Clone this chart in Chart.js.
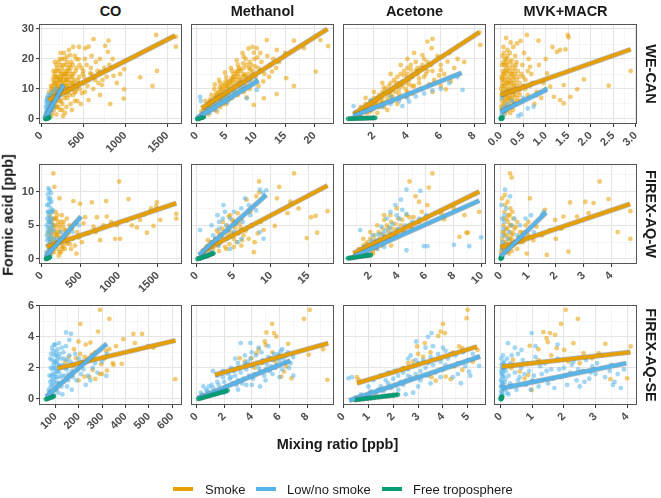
<!DOCTYPE html>
<html><head><meta charset="utf-8">
<script src="https://cdn.jsdelivr.net/npm/chart.js@4/dist/chart.umd.min.js"></script>
<style>
html,body{margin:0;padding:0;background:#fff;}
#wrap{position:relative;width:661px;height:498px;overflow:hidden;font-family:"Liberation Sans",Arial,Helvetica,sans-serif;background:#fff;}
.t{position:absolute;white-space:nowrap;color:#1a1a1a;line-height:1;}
canvas{position:absolute;}
</style></head><body><div id="wrap"></div>
<script>
// ---------- labels ----------
const campaigns = ['WE-CAN','FIREX-AQ-W','FIREX-AQ-SE'];
const species = ['CO','Methanol','Acetone','MVK+MACR'];
const groups = ['Smoke','Low/no smoke','Free troposphere'];
const yTitle = 'Formic acid [ppb]';
const xTitle = 'Mixing ratio [ppb]';

// ---------- axes (rows share y) ----------
const yMajor = [[0,10,20,30],[0,5,10],[0,2,4,6]];
const yLabels = [['0','10','20','30'],['0','5','10'],['0','2','4','6']];
const yRange = [[-1.67,31.67],[-0.74,14.1],[-0.39,6.05]];

const xMajor = [
 [0,500,1000,1500],[0,5,10,15,20],[2,4,6,8],[0,0.5,1,1.5,2,2.5,3],
 [0,500,1000,1500],[0,5,10,15],[2,4,6,8,10],[0,1,2,3,4],
 [100,200,300,400,500,600],[0,2,4,6,8],[0,1,2,3,4,5],[0,1,2,3,4]];
const xLabels = [
 ['0','500','1000','1500'],['0','5','10','15','20'],['2','4','6','8'],['0.0','0.5','1.0','1.5','2.0','2.5','3.0'],
 ['0','500','1000','1500'],['0','5','10','15'],['2','4','6','8','10'],['0','1','2','3','4'],
 ['100','200','300','400','500','600'],['0','2','4','6','8'],['0','1','2','3','4','5'],['0','1','2','3','4']];
const xRange = [[-27,1677],[-0.95,23.3],[0.15,8.7],[-0.15,3.03],
 [-35,1815],[-0.77,18.47],[0.05,10.3],[-0.24,4.93],
 [30,642],[-0.4,9.95],[-0.02,5.73],[-0.21,4.31]];

// ---------- fitted lines [x1,y1,x2,y2] ----------
const fitSmoke = [[87,6.3,1595,27.8],[0.85,3.6,22.2,30],[0.77,1.6,8.3,28.9],[0,8.0,2.89,23.2],
 [65,1.83,1740,8.27],[0.68,1.08,17.6,10.9],[0.79,0.85,9.82,10.0],[0,1.7,4.68,8.17],
 [110,1.98,614,3.76],[1.33,1.55,9.53,3.59],[0.54,1.01,5.37,3.37],[0.04,2.08,4.1,3.01]];
const fitLow = [[45,0.3,265,11.3],[0.05,0.2,10.5,12.8],[0.77,1.0,7.24,15.4],[0,2.4,1.03,9.9],
 [50,0.3,509,6.3],[0.3,0.6,9.35,9.5],[0.79,0.35,9.82,8.67],[0,0.35,1.64,6.9],
 [60,0.15,320,3.55],[0.1,0.05,6.79,2.47],[0.23,-0.1,5.49,2.73],[0.02,0.68,3.97,2.3]];
const fitFree = [[48,0.1,95,0.5],[0.1,0.0,1.2,0.7],[0.45,0.1,2.08,0.35],[0,0.05,0.05,0.5],
 [50,0,108,0.3],[0.1,0.0,2.25,0.85],[0.4,0.1,2.1,0.6],[0,0,0.05,0.3],
 [60,-0.02,92,0.15],[0.12,0,2.25,0.54],[0.47,-0.06,2.19,0.28],[0,0,0.05,0.15]];

// ---------- scatter points [x,y] ----------
const WECAN_CO_smoke = [[1604,27.4],[1604,24.1],[1370,28],[1378,16],[1326,11],[1179,13.9],[988,16.6],[988,9.9],[981,6.8],[822,5],[802,26.1],[794,22.4],[762,24.4],[623,26.6],[564,24.1],[524,23.6],[861,14.4],[722,11.3],[703,15.8],[445,19.9],[345,21.3],[306,20.8],[584,15.2],[445,11.9],[484,8.6],[564,6.3],
[100,5],[120,8],[140,10],[150,6],[160,12],[170,4],[180,9],[190,14],[200,11],[210,7],[220,16],[230,13],[240,10],[250,5],[260,18],[270,12],[280,9],[290,15],[300,11],[310,7],[320,17],[330,13],[350,10],[360,19],[370,14],[380,8],[400,12],[410,16],[420,20],[430,6],[450,14],[460,10],[480,17],[500,12],[520,9],[540,18],[560,13],[600,15],[620,10],[650,19],[680,12],[700,8],[750,17],[780,14],[850,20],[900,12],[110,3],[130,2],[90,4],[80,7],[70,2],[150,3],[200,4],[250,3],[300,4],[350,5],[180,1.5],[120,1],[260,1],[400,6],[220,9.5],[170,8.5],[140,13],[190,17],[230,22],[280,20],[330,23],[400,21],[450,24],[500,16],[600,21],[700,20],[520,20],[380,24],[160,15],[115,11],[95,9],[260,14],[310,19],[420,17],[340,8],[470,5],[135,7],[155,9],[175,11],[195,8],[215,12],[235,6],[255,15],[275,7],[295,13],[315,10],[335,16],[355,12],[375,18],[395,9],[245,17],[205,19],[165,5],[185,6],[225,3],[285,2],[145,16],[125,5],[105,8],[365,3],[425,10],[455,18],[510,14],[550,11],[590,17],[640,13],[670,16],[730,13],[810,18],[940,15],
[105,4],[115,6],[125,9],[135,11],[145,8],[155,12],[165,10],[175,14],[185,12],[195,10],[205,14],[215,9],[225,13],[235,15],[245,11],[255,9],[265,13],[275,16],[285,11],[295,9],[305,14],[315,12],[325,9],[345,14],[365,10],[385,15],[405,11],[435,13],[465,12],[495,15],[130,6],[150,8],[170,7],[190,11],[210,13],[230,10],[250,12],[270,10],[290,8],[310,15],[330,11],[350,17],[370,12],[390,13],[410,9],[120,10],[140,4],[160,9],[180,13],[200,8],[220,6],[240,14],[260,11],[280,15],[300,13],[320,10],[340,18],[360,15],[380,11],[150,14],[170,16],[190,4],[210,10],[230,18],[250,20],[270,22],[290,18],[310,16],[200,16],[180,18],[160,19],[220,20]];
const WECAN_CO_low = [[45,0.5],[50,1],[55,2],[60,1.5],[65,3],[70,2.5],[75,4],[80,3],[85,5],[90,6],[95,4],[100,7],[105,2],[110,8],[115,5],[120,6],[130,9],[140,7],[60,6],[70,7],[80,8],[90,1],[100,3],[150,4],[170,10],[190,9],[250,11],[60,0.3],[70,0.8],[55,4],[65,5],[75,6],[85,2],[95,3],[110,4],[125,3],[135,5],[160,6],[200,7],[230,8]];
const WECAN_CO_free = [[48,0],[55,0.1],[60,0.2],[65,0.3],[70,0.2],[75,0.4],[80,0.3],[85,0.5],[90,0.4],[95,0.5],[58,0.05],[68,0.15],[78,0.25],[88,0.35]];

const WECAN_MeOH_smoke = [[21,26.3],[22.3,24.3],[20.2,15.8],[18.2,23.6],[16.5,26.1],[16.5,11],[15.2,13.6],[13.6,23],[13.6,8.3],[11.9,26.3],[10.2,23.6],[9.7,22.1],[12.8,15.8],[10.5,11],[11.4,6.9],[9.7,4.7],[8.5,7.2],[8,20.8],
[1,2],[1.2,3.5],[1.5,4],[1.8,2.5],[2,5],[2.2,3],[2.5,6],[2.7,4],[3,7],[3.2,5],[3.5,8],[3.7,6],[4,9],[4.2,7],[4.5,10],[4.7,8],[5,11],[5.2,9],[5.5,12],[5.7,10],[6,13],[6.2,11],[6.5,14],[6.7,12],[7,15],[7.2,13],[7.5,16],[7.7,14],[8,17],[8.2,11],[8.5,18],[8.7,15],[9,19],[9.2,13],[9.5,16],[9.8,20],[10,14],[10.5,17],[11,19],[11.5,15],[12,21],[12.5,18],[13,20],[14,19],[15,22],[3,3],[4,4],[5,5],[6,7],[7,8],[8,9],[9,10],[2,1.5],[3.5,2.5],[4.5,5],[5.5,6.5],[6.5,8.5],[7.5,10],[8.5,12],[5,14],[6,16],[7,18],[4,12],[3,10],[2.5,8],[1.5,6],[6.8,19.5],[7.8,22],[8.8,23.5],[5.8,17],[4.8,15.5],[3.8,13],[9.5,24],[10.8,22],[1,1],[0.8,2.5],[2.3,6.5],[3.3,8.5],[4.3,11],[5.3,12.5],[6.3,15],[7.3,16.5],[8.3,20],[9.3,18],[10.3,20.5],[11.3,12.5],[12.3,14],[6.1,9.5],[5.1,7.5],[4.1,6],[7.1,11.5],[8.1,14.5],[9.1,16.5],[3.1,11.5],[2.1,4],[13.5,17],
[1.5,3],[2,4.5],[2.5,5],[3,6],[3.5,7],[4,8],[4.5,9],[5,10],[5.5,11],[6,12],[6.5,13],[7,14],[7.5,13],[8,15],[3.2,7.5],[3.7,9],[4.2,10],[4.7,11.5],[5.2,11],[5.7,12.5],[6.2,14],[6.7,15.5],[7.2,17],[2.7,6],[2.2,5.5],[1.7,3.5],[4.4,7.5],[5.4,8.5],[6.4,10],[7.4,12],[8.4,14],[9.4,15],[3.9,10.5],[4.9,12.5],[5.9,13.5],[6.9,16],[7.9,18.5],[8.9,17],[9.9,17.5],[10.9,16]];
const WECAN_MeOH_low = [[0.2,0.3],[0.5,1],[0.8,1.5],[1,2],[1.5,2.5],[2,3],[2.5,3.5],[3,4.5],[3.5,5],[4,6],[4.5,6.5],[5,7],[5.5,8],[6,8.5],[6.5,9],[7,9.5],[7.5,10.5],[8.5,6.9],[10.2,9.7],[0.6,7.4],[0.7,6],[1.2,1],[2.2,2],[3.2,3],[9,12.5],[10,13],[8,11],[2.8,5.5],[1.8,3.8],[5.2,5.5]];
const WECAN_MeOH_free = [[0.1,0],[0.2,0.1],[0.3,0.1],[0.4,0.2],[0.5,0.3],[0.6,0.3],[0.7,0.4],[0.8,0.5],[0.9,0.5],[1.0,0.6],[1.1,0.6],[1.2,0.7]];

const WECAN_Acet_smoke = [[8.3,28.9],[8.36,24.7],[5.5,26.7],[5.45,23.6],[5.2,25.8],[4.9,21.3],[6.3,9.9],[6.4,19.1],[6,16.3],
[1,2],[1.2,4],[1.4,3],[1.5,5],[1.6,2],[1.8,6],[2,4],[2,7],[2.2,5],[2.3,8],[2.4,6],[2.5,9],[2.6,4],[2.7,10],[2.8,7],[2.9,11],[3,8],[3,12],[3.1,6],[3.2,13],[3.3,9],[3.4,14],[3.5,10],[3.5,7],[3.6,15],[3.7,11],[3.8,16],[3.9,12],[4,9],[4,17],[4.1,13],[4.2,18],[4.3,14],[4.4,11],[4.5,19],[4.6,15],[4.7,12],[4.8,17],[5,14],[5,20],[5.2,16],[5.4,18],[5.6,13],[5.8,21],[6,18],[6.2,15],[6.5,22],[6.8,17],[7,20],[3,15],[2.5,12],[2,9],[1.5,7],[4,20],[3.6,18],[4.4,22],[4.8,10],[5.5,9],[6,11],[2.2,2],[2.8,3],[3.4,5],[1.2,1],[1.8,2.5],[3.9,7.5],[4.3,8.5],[4.6,16],[3.2,10.5],[2.6,8.5],[2.1,5.5],[1.7,4.5],[5.3,11.5],[5.9,14.5],[6.6,12.5],[7.4,19],
[1.3,2.5],[1.6,3.5],[1.9,4.5],[2.2,6.5],[2.5,7],[2.8,8.5],[3.1,9.5],[3.4,11],[3.7,12.5],[4,13.5],[4.3,15],[4.6,17],[4.9,18],[5.2,19],[1.5,3.5],[2,5.5],[2.5,5.5],[3,9.5],[3.5,12],[4,15],[4.5,16],[5,17],[5.5,16],[2.3,4],[2.7,5.5],[3.1,7.5],[3.5,8.5],[3.9,10],[4.3,11],[4.7,13.5],[5.1,15],[2.6,10.5],[3.3,12],[3.8,14.5],[4.2,16.5],[1.8,5],[2.2,7],[2.9,9],[3.6,11.5],[4.1,11.5]];
const WECAN_Acet_low = [[0.8,0.5],[0.9,1],[1,1.5],[1.2,2],[1.5,2.5],[1.8,3],[2,3.5],[2.5,4],[3,5],[3.5,6],[4,7],[4.5,7.5],[5,8.5],[5.5,9.5],[6,10],[7.3,9.7],[0.78,4.3],[1.8,6.3],[3.7,4.3],[4.1,5.8],[3,7.4],[0.9,2.2],[6.5,12],[7,14]];
const WECAN_Acet_free = [[0.45,0.05],[0.6,0.1],[0.75,0.1],[0.9,0.15],[1.05,0.2],[1.2,0.2],[1.35,0.25],[1.5,0.25],[1.65,0.3],[1.8,0.3],[1.95,0.35],[2.08,0.4]];

const WECAN_MVK_smoke = [[1.49,28],[1.51,27.2],[0.84,26.1],[1.44,23.2],[1.32,23],[1.25,22.4],[2.89,16],[2.4,11.1],[1.85,13.2],[1.7,9.9],[1.32,6.3],[1.4,5.2],[1.55,7.4],[0.58,28],[0.36,25.2],[0.65,17.4],[1.03,15.2],[1.1,10.8],[1.4,11.3],[1.18,7.4],
[0.02,3],[0.03,6],[0.04,9],[0.05,12],[0.06,15],[0.07,18],[0.08,5],[0.09,8],[0.1,11],[0.11,14],[0.12,17],[0.13,20],[0.14,4],[0.15,7],[0.16,10],[0.17,13],[0.18,16],[0.19,19],[0.2,22],[0.21,2],[0.22,6],[0.23,9],[0.24,12],[0.25,15],[0.26,18],[0.27,3],[0.28,8],[0.29,11],[0.3,14],[0.31,17],[0.32,21],[0.33,5],[0.34,10],[0.35,13],[0.36,7],[0.38,16],[0.4,9],[0.42,12],[0.45,6],[0.5,14],[0.55,10],[0.6,8],[0.7,12],[0.75,5],[0.8,9],[0.9,7],[0.01,10],[0.02,14],[0.03,18],[0.04,21],[0.06,24],[0.1,20],[0.15,23],[0.08,1.5],[0.12,2.5],[0.18,3.5],[0.05,7.5],[0.1,6.5],[0.07,11],[0.14,15.5],[0.2,10],[0.25,7],[0.3,5],[0.35,19],[0.28,24],[0.22,25.5],[0.48,18],[0.52,22],[0.62,20],[0.68,15],[0.85,18],[0.95,12],[1.0,20],[1.15,24],[0.44,26],[0.12,27],
[0.01,4],[0.02,8],[0.03,11],[0.04,13],[0.05,16],[0.06,19],[0.07,22],[0.08,9.5],[0.09,13],[0.1,16],[0.11,3.5],[0.12,8],[0.13,12],[0.14,18],[0.15,21],[0.16,5],[0.17,9],[0.18,11.5],[0.19,14],[0.2,17],[0.21,7],[0.22,12.5],[0.23,15],[0.24,19.5],[0.25,4.5],[0.26,10.5],[0.27,13.5],[0.28,16],[0.29,6],[0.3,9],[0.31,12],[0.32,8],[0.33,15],[0.34,18],[0.36,11],[0.38,6],[0.4,14],[0.42,8],[0.44,10],[0.46,15],[0.5,11],[0.55,13],[0.6,16],[0.65,11],[0.05,4.5],[0.09,6],[0.13,9.5],[0.17,6.5],[0.03,13.5],[0.07,15],[0.11,18.5],[0.15,12],[0.19,8]];
const WECAN_MVK_low = [[0.01,0.5],[0.02,1.5],[0.03,2.5],[0.05,3.5],[0.08,2],[0.1,4],[0.12,3],[0.15,5],[0.2,4],[0.25,6],[0.3,5],[0.39,1],[0.45,1.5],[0.73,4.1],[0.6,3.5],[0.5,7],[0.8,8],[0.9,9],[1,10],[0.02,7],[0.05,8]];
const WECAN_MVK_free = [[0,0.1],[0.01,0.2],[0.02,0.3],[0.03,0.4],[0.04,0.5],[0.01,0.05],[0.03,0.15]];

const FXW_CO_smoke = [[151,12.7],[164,10.7],[1002,11.5],[1123,8.9],[834,8.6],[648,8.4],[497,8.2],[410,8.6],[229,9.0],[1490,8.4],[1482,7.8],[1413,7.5],[1326,6.6],[1231,4.7],[1361,3.9],[1741,6.7],[1741,6.0],[1447,4.9],[950,3],[1015,3],[756,2.8],[670,4.8],[562,6.2],[449,0.8],[324,2.3],[713,6.2],[972,5],[1166,5],[1274,5.8],[1534,5.8],[540,5.3],[842,6.3],[1102,5.7],
[80,1],[90,2],[100,3],[110,1.5],[120,4],[130,2.5],[140,5],[150,3],[160,1],[170,4.5],[180,2],[190,6],[200,3.5],[210,1.5],[220,5],[230,2.5],[240,4],[250,1],[260,6.5],[270,3],[280,2],[290,4.5],[300,1.5],[320,3.5],[340,2.5],[360,5],[380,1.5],[400,3],[430,2],[460,4],[120,6],[140,7],[160,6],[180,5],[100,5.5],[85,4],[95,0.5],[105,6.5],[125,0.8],[145,2],[165,3],[185,3.8],[205,2.2],[225,3.2],[245,2.8],[265,1.8],[285,5.5],[305,4.2],[325,6],[345,3.8],[365,2.2],[390,4.5],[420,5.2],[480,3.2],[520,2.5],[600,3.8],[700,4],[800,5],[900,5.5],
[90,3.5],[110,4.5],[130,3.5],[150,5],[170,2.5],[190,3.5],[210,4],[230,4.5],[250,3],[270,5],[290,3],[110,2.5],[130,5.5],[150,1.5],[170,6],[190,2.5],[210,5.5],[230,1],[250,5.5],[270,1.5],[200,6.5],[180,7],[220,0.5],[160,4]];
const FXW_CO_low = [[80,9.6],[100,10.2],[120,9.8],[90,8],[110,7],[70,6],[85,5.5],[95,4.8],[105,4],[120,3.5],[130,6],[140,5],[150,4.2],[160,3],[75,2],[90,1.5],[110,2.5],[130,1.2],[200,3],[250,4],[300,3.5],[400,4],[450,5.5],[480,5],[180,2],[60,1],[70,0.5],[100,0.8],[145,7.2],[65,3.5],[80,4.5],[95,6.5],[115,5.5],[125,8.5],[135,2],[70,2.8],[85,0.3],[105,1],[60,0.2],
[70,8],[80,7],[90,9],[100,8.5],[110,9],[120,7.5],[75,4],[85,7],[95,3],[105,5.5],[115,3],[125,4.5],[135,7],[65,5],[88,10.5],[98,6]];
const FXW_CO_free = [[55,0],[60,0.05],[65,0.08],[70,0.1],[75,0.12],[80,0.15],[85,0.18],[90,0.2],[95,0.22],[100,0.25],[108,0.3]];

const FXW_MeOH_smoke = [[13.1,12.7],[8.4,11.5],[11.1,10.7],[8.4,9.9],[8.0,9.3],[10.8,9],[12.6,8.5],[13.7,7.5],[12.2,6.8],[14.8,3.1],[15.4,6.2],[16,6.4],[16.2,3.9],[17.6,7.1],[10.5,4.9],[9,4.3],[7.7,1],[6.1,2.8],[6.7,8.8],[4.5,6.5],[5,5.5],[7.2,7],[5.9,4.6],
[1,1],[1.3,1.8],[1.6,1.2],[1.9,2.5],[2.2,1.5],[2.5,3],[2.8,2],[3,3.8],[3.2,2.5],[3.4,4.5],[3.6,3],[3.8,1.8],[4,5],[4.2,3.5],[4.4,2.2],[4.6,4],[4.8,5.8],[5,3],[5.2,4.6],[5.4,2.5],[5.6,3.8],[5.8,5.2],[6,2],[6.3,3.5],[6.6,4.2],[7,3],[7.4,5],[7.8,2.5],[8.2,3.8],[8.6,5.5],[3,1.2],[2,0.8],[4,1.5],[5,1.8],[6,6],[3.5,5.5],[2.7,4.2],[1.5,2.8],[4.3,6.3],[5.5,6.8]];
const FXW_MeOH_low = [[3,4.5],[4,5],[3.5,6],[4.5,6],[5,7],[6,7.5],[2,2.5],[2.5,3],[1.5,2],[1,1],[3,2],[4,3],[5,4],[6,3],[7,8],[0.45,4.3],[2,5],[3,5.5],[9.35,10.2],[8.9,9.8],[8.5,10.3],[6.5,9],[1,0.5],[2,1],[0.5,0.3],[5.5,2.5],[4.5,1.5],[7.5,5],[3.8,7],[2.2,3.5],[1.2,1.5],[3.3,3.5],[4.2,4.2],[5.3,5.2],[6.2,5.5],[7.2,6.5],[8,7.2],[8.5,4],[9,3],[2.8,6.5],[3.6,8]];
const FXW_MeOH_free = [[0.1,0],[0.3,0.05],[0.5,0.1],[0.7,0.2],[0.9,0.25],[1.1,0.35],[1.3,0.4],[1.5,0.5],[1.7,0.6],[1.9,0.7],[2.1,0.75],[2.25,0.85]];

const FXW_Acet_smoke = [[6.46,12.7],[4.82,11.5],[5.25,9.3],[5.5,8.5],[6.1,8.0],[6.2,10.6],[7.1,6.8],[8,7.5],[8.75,6.5],[8.9,3.9],[9,3.9],[8.4,3.3],[9.8,7.0],[7.3,5.9],[5.1,6.2],[5.7,7.0],[3.9,7.5],[3.45,6.5],[3,5.8],
[1,0.8],[1.2,1.5],[1.4,1],[1.5,2],[1.6,1.3],[1.8,2.5],[1.9,1.5],[2,3],[2.1,2],[2.2,1.2],[2.3,3.5],[2.4,2.5],[2.5,1.5],[2.6,4],[2.7,3],[2.8,2],[2.9,4.5],[3,3.5],[3.1,2.5],[3.2,5],[3.3,4],[3.4,3],[3.5,5.5],[3.6,4.5],[3.8,3.5],[4,6],[4.2,5],[4.4,4],[4.6,6.5],[4.8,5],[5,4.5],[5.5,5.5],[6,6],[2,4],[2.5,5],[3,6.5],[1.5,3],[1.3,0.5],[2.2,0.8],[3.5,2],
[1.7,2.2],[2.3,2.8],[2.8,3.7],[3.3,4.6],[3.8,5.2],[4.3,5.8],[4.8,6.2],[3.9,4.4]];
const FXW_Acet_low = [[4.6,10.3],[5.6,10.1],[9.95,3.2],[9.1,1.9],[8,2.1],[6.1,1.9],[5.85,1.9],[4.6,1.3],[1.28,4.3],[3.45,7],[3.9,6.5],[4.3,7.3],[1,0.5],[1.5,1.2],[2,2],[2.5,2.8],[3,3.2],[3.5,3.8],[4,4.5],[4.5,5],[5,5.5],[5.5,6],[6,6.5],[2.2,3.5],[2.8,4.8],[3.2,6],[3.8,8],[4.2,8.8],[1.8,1],[2.5,1.5],[3,1.8],[0.8,0.2],
[1.6,1.8],[2.1,2.7],[2.6,3.6],[3.1,4.2],[3.6,5.2],[4.1,6],[4.6,6.7],[2.4,2.2],[2.9,3.8],[3.4,4.6]];
const FXW_Acet_free = [[0.4,0.1],[0.55,0.15],[0.7,0.2],[0.85,0.25],[1.0,0.3],[1.15,0.35],[1.3,0.4],[1.45,0.45],[1.6,0.5],[1.75,0.52],[1.9,0.55],[2.05,0.6]];

const FXW_MVK_smoke = [[0.34,12.7],[0.4,12.1],[3.58,11.5],[2.51,8.4],[3.06,8.5],[3.36,8.3],[3.9,8.9],[4.69,7.1],[4.69,3],[4.23,4],[3.18,6.8],[2.45,1.1],[1.06,9],[1.6,7.3],[1.97,5.8],[2.27,6.3],[2.76,6.3],[1.79,4.3],[1.18,2.8],[1.67,0.6],[0.94,0.8],
[0.02,1],[0.04,2],[0.06,3],[0.08,4],[0.1,5],[0.12,6],[0.14,7],[0.16,8],[0.18,1.5],[0.2,2.5],[0.22,3.5],[0.24,4.5],[0.26,5.5],[0.28,6.5],[0.3,0.8],[0.32,2],[0.34,3],[0.36,4],[0.38,5],[0.4,1.2],[0.42,2.8],[0.45,3.8],[0.5,2.2],[0.55,4.8],[0.6,1.5],[0.65,3.2],[0.7,2.5],[0.8,4],[0.9,3],[1.0,5.5],[0.05,9],[0.15,9.5],[0.25,8.5],[0.35,7.5],[0.45,6],[1.3,4.8],[1.5,3.5],[2,3],[2.2,4.5],
[0.05,1.5],[0.1,2.5],[0.15,3.5],[0.2,4.5],[0.25,1.2],[0.3,3],[0.35,5],[0.4,3.5],[0.45,2],[0.5,4.5],[0.55,2.5],[0.6,5.5],[0.7,4],[0.8,2.5],[0.9,5],[1,3.5],[0.12,4],[0.22,6],[0.32,6.5],[0.42,7]];
const FXW_MVK_low = [[0.16,10.3],[0.34,9.3],[0.02,0.5],[0.04,1.5],[0.06,2.5],[0.08,3.5],[0.1,4.5],[0.12,5.5],[0.14,6.5],[0.2,7.5],[0.25,3],[0.3,4],[0.4,5],[0.5,6],[0.7,5],[0.9,6],[1.1,6.5],[1.55,7],[1.5,6.6],[0.03,8],[0.05,6],[0.15,1],[0.35,2],[0.6,3.5],[1.2,4]];
const FXW_MVK_free = [[0,0.05],[0.01,0.1],[0.02,0.15],[0.03,0.2],[0.04,0.25],[0.05,0.3]];

const FXSE_CO_smoke = [[291,5.74],[331,5.16],[207,4.84],[283,4.34],[434,4.19],[471,4.19],[391,3.85],[250,3.63],[199,3.7],[331,3.2],[317,3.1],[256,2.84],[206,2.9],[189,2.62],[143,2.4],[210,2.34],[296,2.24],[349,2.19],[384,2.26],[260,1.87],[321,1.83],[300,1.61],[271,1.29],[246,1.4],[224,1.44],[346,2.3],[496,3.38],[613,1.27],[157,2.7],[171,1.55],[174,2.1],[230,3.5],[180,3.2],[240,2.6],[270,3],[310,2.6],[440,3.6],[520,3.3],[360,3.4],[290,1.6],[200,1.2],[225,2.7]];
const FXSE_CO_low = [[146,4.28],[167,4.2],[318,1.48],[70,0.2],[75,0.5],[80,0.8],[85,1.2],[90,1.6],[95,2],[100,2.4],[105,2.8],[110,3.2],[115,3.6],[80,2],[85,2.5],[90,0.4],[95,1],[100,1.4],[105,0.6],[110,1.8],[115,2.2],[120,1],[125,2.6],[130,1.5],[135,3],[140,2],[145,3.4],[150,2.5],[155,1.2],[160,2.8],[170,1.8],[180,2.2],[190,1.2],[200,2.6],[210,1.6],[220,1.9],[230,0.9],[240,1.5],[260,2],[280,1.7],[300,2.4],[320,2.9],[90,3.1],[100,3.5],[95,2.8],[105,1.8],[75,1.5],[88,0.2],[112,0.4],[130,0.3],[150,0.8],[170,0.6],[92,2.2],[98,1.6],[102,3.0],[108,2.5],[118,2.9],[128,3.3],[160,3.8],[185,2.9],
[72,0.6],[78,1.1],[82,1.5],[86,0.9],[88,1.9],[92,1.3],[96,2.4],[98,0.7],[102,2.0],[104,1.1],[106,2.3],[108,1.4],[112,2.7],[114,1.0],[116,1.7],[118,2.1],[122,1.4],[124,2.0],[126,0.8],[132,2.2],[134,1.1],[138,2.6],[142,1.5],[148,1.9],[152,2.1],[158,1.6],[165,2.4],[175,1.4],[195,1.9],[215,2.4],[250,1.2],[270,2.3],[82,2.9],[86,3.3],[94,3.5],[78,2.6]];
const FXSE_CO_free = [[60,-0.02],[65,0.02],[70,0.05],[75,0.07],[80,0.1],[85,0.12],[90,0.15],[94,0.18]];

const FXSE_MeOH_smoke = [[8.19,5.74],[7.78,5.16],[5.47,4.84],[5.06,4.28],[5.61,4.24],[5.78,4.02],[4.94,3.7],[5.01,3.48],[6.63,3.55],[8.12,2.84],[9.16,3.2],[9.47,1.23],[6.87,1.33],[6.14,1.44],[6.34,1.76],[4.34,2.95],[3.98,2.62],[3.5,2.41],[3.13,2.62],[3.01,1.98],[4.75,2.3],[5.71,2.41],[5.35,2.62],[4.5,3.2],[5.5,3.0],[6,2.8],[4.2,2.0],[6.5,2.1]];
const FXSE_MeOH_low = [[0.2,0.1],[0.4,0.3],[0.6,0.2],[0.8,0.5],[1,0.3],[1.2,0.7],[1.4,0.5],[1.6,0.9],[1.8,0.6],[2,1.1],[2.2,0.8],[2.4,1.3],[2.6,1],[2.8,1.5],[3,1.2],[3.2,1.7],[3.4,1.3],[3.6,1.9],[3.8,1.5],[4,2.1],[4.2,1.6],[4.4,2.3],[4.6,1.8],[4.8,2.5],[5,1.9],[5.2,2.7],[5.4,2.1],[5.6,2.9],[5.8,2.2],[6,2.5],[6.2,1.9],[6.5,2.8],[6.8,2.3],[7,1.5],[2.5,2],[3,2.3],[3.5,2.8],[4,3],[4.5,3.3],[3.2,3.6],[2.8,2.6],[1.5,1.5],[1.2,1.8],[0.5,0.8],[2,0.4],[3,0.6],[4,0.9],[5,1.2],[6,1.4],[4.6,0.8],[3.6,0.9],[5.5,1.6],[6.6,3],[7,2.7],[1.9,1.8],[3.9,3.6],[5.2,3.4],[6.2,3.2],
[0.3,0.4],[0.7,0.6],[1.1,0.9],[1.5,1.1],[1.9,1.4],[2.3,1.6],[2.7,1.8],[3.1,2.0],[3.5,2.3],[3.9,2.6],[4.3,2.8],[4.7,3.0],[5.1,2.2],[5.5,2.5],[5.9,2.9],[6.3,2.6],[2.1,0.6],[2.5,1.4],[2.9,0.9],[3.3,1.0],[3.7,2.4],[4.1,1.3],[4.5,2.0],[4.9,1.5],[5.3,1.8],[5.7,2.0],[6.1,3.1],[6.7,2.0],[1.3,0.3],[0.9,0.8]];
const FXSE_MeOH_free = [[0.12,0],[0.3,0.05],[0.5,0.1],[0.7,0.15],[0.9,0.2],[1.1,0.25],[1.3,0.3],[1.5,0.35],[1.7,0.4],[1.9,0.45],[2.1,0.5],[2.25,0.54]];

const FXSE_Acet_smoke = [[4.99,5.74],[4.95,5.2],[4,4.84],[3.91,4.34],[4.08,4.24],[3.81,4.06],[3.27,3.59],[2.96,3.38],[4.65,3.38],[4.78,3.27],[5.39,3.16],[2.79,2.41],[2.6,2.3],[4.78,1.87],[4.31,1.27],[4.11,1.44],[0.54,1.4],[0.61,1.23],[3.54,1.4],[3.71,1.18],[4.45,2.09],[3.5,3.0],[3.2,2.7],[3.9,2.6],[4.4,3.0],[2.4,2.0],[5.2,2.4],[3.0,2.9]];
const FXSE_Acet_low = [[0.2,1.33],[0.34,1.4],[3.54,4.24],[3.4,4.0],[2.92,3.7],[5.45,2.13],[5.05,1.76],[4.72,1.01],[0.5,0.1],[0.7,0.3],[0.9,0.2],[1.1,0.5],[1.3,0.4],[1.5,0.8],[1.6,0.5],[1.8,1],[1.9,0.7],[2,1.3],[2.1,0.9],[2.2,1.5],[2.3,1.1],[2.4,1.7],[2.5,1.2],[2.6,1.9],[2.7,1.4],[2.8,2.1],[2.9,1.6],[3,2.3],[3.1,1.8],[3.2,2.5],[3.3,2],[3.4,1.5],[3.5,2.7],[3.6,2.2],[3.7,1.7],[3.8,2.9],[3.9,2.4],[4,1.9],[4.1,3.1],[4.2,2.6],[4.3,2.1],[4.5,2.8],[4.6,2.3],[4.8,3],[5,2.5],[5.2,2.9],[5.4,2.7],[2,0.2],[2.5,0.3],[2.8,0.4],[3,0.8],[3.5,1],[1.5,1.5],[1.2,1.2],[2.6,2.6],[3.3,3.3],[4.4,1.4],[5.1,1.5],
[1.0,0.8],[1.4,0.6],[1.7,1.2],[2.1,1.8],[2.4,0.9],[2.6,1.5],[2.9,2.5],[3.1,1.2],[3.4,2.3],[3.7,2.5],[3.9,1.4],[4.1,2.2],[4.3,2.9],[4.6,1.6],[4.9,2.1],[2.2,0.6],[3.6,3.4],[4.0,3.3],[2.7,2.8],[1.8,1.7]];
const FXSE_Acet_free = [[0.47,-0.06],[0.65,-0.03],[0.8,0],[0.95,0.03],[1.1,0.06],[1.25,0.09],[1.4,0.12],[1.55,0.15],[1.7,0.18],[1.85,0.21],[2.0,0.24],[2.19,0.28]];

const FXSE_MVK_smoke = [[2.06,5.74],[2.44,5.16],[1.91,4.84],[1.35,4.3],[1.56,4.24],[1.72,4.13],[1.45,3.91],[1.49,3.66],[0.92,3.42],[1.19,3.2],[1.77,3.27],[2.01,3.16],[2.3,3.59],[3.31,3.55],[3.1,2.95],[4.11,3.38],[2.62,2.95],[2.89,2.62],[3.47,1.27],[4,1.33],[0.76,1.33],[0.87,1.55],[0.6,1.76],[0.34,1.98],[0.98,0.58],[0.39,2.52],[2.14,2.41],[1.2,2.5],[1.6,2.8],[2.5,2.3]];
const FXSE_MVK_low = [[0.98,4.24],[0.23,3.59],[0.66,3.16],[0.01,0.2],[0.02,0.5],[0.03,0.8],[0.04,1.1],[0.05,1.4],[0.06,1.7],[0.07,2],[0.08,2.3],[0.01,1.2],[0.02,2.6],[0.03,1.6],[0.05,0.3],[0.08,0.9],[0.1,1.9],[0.12,0.6],[0.15,1.3],[0.18,2.1],[0.2,0.4],[0.3,1],[0.4,2.2],[0.5,0.6],[0.6,1.4],[0.7,2.5],[0.8,0.9],[0.9,1.8],[1,1.2],[1.1,2.7],[1.2,0.8],[1.3,1.6],[1.4,2.3],[1.5,1],[1.6,1.9],[1.7,0.7],[1.8,2.6],[1.9,1.4],[2,2],[2.1,0.9],[2.2,1.7],[2.3,2.4],[2.4,1.2],[2.5,0.8],[2.6,1.8],[2.7,2.5],[2.8,1.3],[2.9,2.1],[3,1.6],[3.2,2.8],[3.3,1.4],[3.5,2.2],[3.6,1.1],[3.7,1.6],[3.8,0.7],[3.9,1.9],[0.35,2.8],[0.45,3.3],[1.1,3.4],[0.25,0.3],[1.8,3.5],[0.55,2.9],
[0.01,0.8],[0.02,1.8],[0.03,2.2],[0.04,0.4],[0.05,2.0],[0.06,1.0],[0.07,2.8],[0.09,1.5],[0.11,2.4],[0.13,1.1],[0.16,1.8],[0.2,2.6],[0.25,1.5],[0.3,2.3],[0.35,0.8],[0.45,1.7],[0.55,1.2],[0.65,2.0],[0.75,1.6],[0.85,2.3],[0.95,0.6],[1.05,1.5],[1.25,2.1],[1.45,1.8],[1.65,1.3],[1.85,1.9],[2.05,1.5],[2.25,2.2],[2.45,1.9],[2.65,1.1],[2.85,1.7],[3.05,2.3],[3.45,1.8],[3.55,0.9]];
const FXSE_MVK_free = [[0,0],[0.01,0.03],[0.02,0.06],[0.03,0.1],[0.04,0.13],[0.05,0.15],[0.02,-0.02]];

const smokePts = [WECAN_CO_smoke,WECAN_MeOH_smoke,WECAN_Acet_smoke,WECAN_MVK_smoke,FXW_CO_smoke,FXW_MeOH_smoke,FXW_Acet_smoke,FXW_MVK_smoke,FXSE_CO_smoke,FXSE_MeOH_smoke,FXSE_Acet_smoke,FXSE_MVK_smoke];
const lowPts = [WECAN_CO_low,WECAN_MeOH_low,WECAN_Acet_low,WECAN_MVK_low,FXW_CO_low,FXW_MeOH_low,FXW_Acet_low,FXW_MVK_low,FXSE_CO_low,FXSE_MeOH_low,FXSE_Acet_low,FXSE_MVK_low];
const freePts = [WECAN_CO_free,WECAN_MeOH_free,WECAN_Acet_free,WECAN_MVK_free,FXW_CO_free,FXW_MeOH_free,FXW_Acet_free,FXW_MVK_free,FXSE_CO_free,FXSE_MeOH_free,FXSE_Acet_free,FXSE_MVK_free];

// ---------- styling ----------
const COL = {smoke:'#E69F00', low:'#56B4E9', free:'#009E73'};
const PT = {smoke:'rgba(230,159,0,0.55)', low:'rgba(86,180,233,0.55)', free:'rgba(0,158,115,0.8)'};
const colLeft = [39,191,343,494], rowTop = [24,164,305], PW = 143, PH = 100;
const L = 44, R = 4, T = 4, B = 46;
const FONT = '"Liberation Sans", Arial, Helvetica, sans-serif';
const wrap = document.getElementById('wrap');

function addText(txt, x, y, css, rot) {
  const d = document.createElement('div');
  d.className = 't'; d.textContent = txt;
  d.style.left = x + 'px'; d.style.top = y + 'px';
  d.style.cssText += css;
  d.style.transform = 'translate(-50%,-50%)' + (rot ? ' rotate(' + rot + 'deg)' : '');
  wrap.appendChild(d);
}

function withMinors(majors, lo, hi) {
  const out = majors.slice();
  const step = majors.length > 1 ? majors[1] - majors[0] : 1;
  const half = step / 2;
  const first = majors[0] - half;
  for (let i = 0; i <= majors.length; i++) {
    const v = +(first + i * step).toFixed(6);
    if (v >= lo && v <= hi) out.push(v);
  }
  return out.filter(v => v >= lo && v <= hi).sort((a, b) => a - b);
}

const borderPlugin = {
  id: 'panelBorder',
  afterDraw(chart) {
    const a = chart.chartArea, c = chart.ctx;
    c.save(); c.strokeStyle = '#555555'; c.lineWidth = 1;
    c.strokeRect(Math.round(a.left) + 0.5, Math.round(a.top) + 0.5, Math.round(a.right - a.left) - 1, Math.round(a.bottom - a.top) - 1);
    c.restore();
  }
};

function toXY(arr) { return arr.map(p => ({x: p[0], y: p[1]})); }
function lineDS(f, color, w) {
  return {data: [{x: f[0], y: f[1]}, {x: f[2], y: f[3]}], showLine: true, borderColor: color, borderWidth: w,
    pointRadius: 0, borderCapStyle: 'butt', clip: 0, fill: false};
}
function ptDS(arr, color) {
  return {data: toXY(arr), backgroundColor: color, borderWidth: 0, pointRadius: 2.4, showLine: false, clip: 0};
}

for (let r = 0; r < 3; r++) {
  for (let c = 0; c < 4; c++) {
    const i = r * 4 + c;
    const cv = document.createElement('canvas');
    const W = L + PW + R, H = T + PH + B;
    cv.width = W; cv.height = H;
    cv.style.width = W + 'px'; cv.style.height = H + 'px';
    cv.style.left = (colLeft[c] - L) + 'px'; cv.style.top = (rowTop[r] - T) + 'px';
    wrap.appendChild(cv);

    const xm = xMajor[i], xl = xLabels[i], xr = xRange[i];
    const ym = yMajor[r], yl = yLabels[r], yr = yRange[r];
    const xAll = withMinors(xm, xr[0], xr[1]);
    const yAll = withMinors(ym, yr[0], yr[1]);
    const isMajX = v => xm.indexOf(v) >= 0;
    const isMajY = v => ym.indexOf(v) >= 0;
    const showY = c === 0;

    new Chart(cv, {
      type: 'scatter',
      data: {datasets: [
        lineDS(fitFree[i], COL.free, 3.6),
        lineDS(fitFree[i], 'rgba(90,90,90,0.45)', 5.2),
        lineDS(fitLow[i], COL.low, 3.6),
        lineDS(fitLow[i], 'rgba(90,90,90,0.45)', 5.2),
        lineDS(fitSmoke[i], COL.smoke, 3.6),
        lineDS(fitSmoke[i], 'rgba(90,90,90,0.45)', 5.2),
        ptDS(freePts[i], PT.free),
        ptDS(lowPts[i], PT.low),
        ptDS(smokePts[i], PT.smoke)
      ]},
      options: {
        responsive: false, animation: false, events: [], devicePixelRatio: 1,
        layout: {padding: {top: T, right: R, left: 0, bottom: 0}},
        plugins: {legend: {display: false}, tooltip: {enabled: false}},
        scales: {
          x: {
            type: 'linear', position: 'bottom', min: xr[0], max: xr[1], bounds: 'data',
            afterBuildTicks: s => { s.ticks = xAll.map(v => ({value: v})); },
            afterFit: s => { s.height = B; s.paddingLeft = 0; s.paddingRight = 0; s.paddingTop = 0; s.paddingBottom = 0; },
            border: {display: false},
            grid: {
              color: ctx => (ctx.tick && isMajX(ctx.tick.value)) ? '#e4e4e4' : '#f2f2f2',
              lineWidth: ctx => (ctx.tick && isMajX(ctx.tick.value)) ? 1.1 : 0.7,
              drawTicks: true, tickLength: 3,
              tickColor: ctx => (ctx.tick && isMajX(ctx.tick.value)) ? '#333333' : 'rgba(0,0,0,0)',
              tickWidth: 1
            },
            ticks: {
              autoSkip: false, minRotation: 45, maxRotation: 45, padding: 2, color: '#4d4d4d',
              font: {family: FONT, size: 11, weight: 'bold'},
              callback: v => { const k = xm.indexOf(v); return k >= 0 ? xl[k] : ''; }
            }
          },
          y: {
            type: 'linear', position: 'left', min: yr[0], max: yr[1], bounds: 'data',
            afterBuildTicks: s => { s.ticks = yAll.map(v => ({value: v})); },
            afterFit: s => { s.width = L; s.paddingTop = 0; s.paddingBottom = 0; s.paddingLeft = 0; s.paddingRight = 0; },
            border: {display: false},
            grid: {
              color: ctx => (ctx.tick && isMajY(ctx.tick.value)) ? '#e4e4e4' : '#f2f2f2',
              lineWidth: ctx => (ctx.tick && isMajY(ctx.tick.value)) ? 1.1 : 0.7,
              drawTicks: showY, tickLength: 3,
              tickColor: ctx => (showY && ctx.tick && isMajY(ctx.tick.value)) ? '#333333' : 'rgba(0,0,0,0)',
              tickWidth: 1
            },
            ticks: {
              display: showY, padding: 2, color: '#4d4d4d',
              font: {family: FONT, size: 11, weight: 'bold'},
              callback: v => { const k = ym.indexOf(v); return k >= 0 ? yl[k] : ''; }
            }
          }
        }
      },
      plugins: [borderPlugin]
    });
  }
}

// ---------- text ----------
const HEAD = 'font-size:14.5px;font-weight:bold;color:#1a1a1a;';
species.forEach((s, c) => addText(s, colLeft[c] + PW / 2, 11, HEAD));
campaigns.forEach((s, r) => addText(s, 651, rowTop[r] + PH / 2, HEAD, 90));
addText(yTitle, 8, 215, HEAD, -90);
addText(xTitle, 337.5, 444, HEAD);

// legend
const legX = [[173, 205], [256, 287], [382, 413]];
const legCol = [COL.smoke, COL.low, COL.free];
groups.forEach((g, k) => {
  const sw = document.createElement('div');
  sw.style.cssText = 'position:absolute;width:20px;height:4px;left:' + legX[k][0] + 'px;top:487px;background:' + legCol[k] + ';';
  wrap.appendChild(sw);
  const d = document.createElement('div');
  d.className = 't'; d.textContent = g;
  d.style.cssText += 'font-size:13px;color:#1a1a1a;left:' + legX[k][1] + 'px;top:489px;transform:translateY(-50%);';
  wrap.appendChild(d);
});
</script></body></html>
